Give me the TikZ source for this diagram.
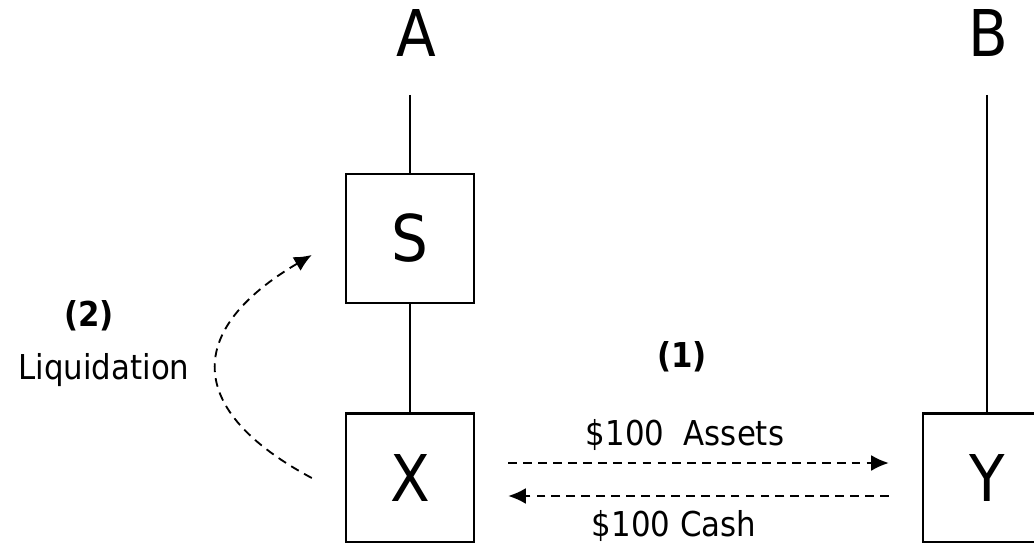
\documentclass[tikz,border=0pt]{standalone}
\usepackage{fontspec}
\setmainfont{DejaVu Sans Condensed}
\usepackage{tikz}
\usetikzlibrary{arrows.meta}
\usetikzlibrary{positioning}

\begin{document}
\begin{tikzpicture}[x=0.02cm,y=-0.02cm,line width=1.4pt]
            % 设置样式
            \tikzstyle{firm}=[draw=black,line width=1.4pt,minimum width=2.56cm,minimum height=2.58cm,inner sep=0pt,font=\fontsize{36.7}{40}\selectfont]
            \tikzstyle{owner}=[font=\fontsize{36.7}{40}\selectfont,anchor=base]
            \tikzstyle{lbl}=[font=\fontsize{19.5}{22}\selectfont,anchor=base]
            \tikzstyle{flow}=[dashed,dash pattern=on 5pt off 3.5pt,line width=1.05pt,-{Latex[length=10pt,width=9pt]}]

            \useasboundingbox (0,0) rectangle (1034,543);

            % 定义节点
            \node[owner] (A) at (416,57) {A};
            \node[owner] (B) at (988,57) {B};
            \node[firm] (S) at (410,238.5) {S};
            \node[firm] (X) at (410,478) {X};
            \node[firm] (Y) at (987,478) {Y};
            \coordinate (Atop) at (410,95);
            \coordinate (Btop) at (987,95);

            % 所有权
            \draw (Atop) -- (S.north);
            \draw (S.south) -- (X.north);
            \draw (Btop) -- (Y.north);

            % 交易
            \node[lbl,font=\bfseries\fontsize{19.5}{22}\selectfont] (one) at (682,368) {(1)};
            \node[lbl] (assets) at (685,446) {\$100~~Assets};
            \node[lbl] (cash) at (674,536) {\$100 Cash};
            \draw[flow,shorten <=0.66cm,shorten >=0.66cm] ([yshift=0.3cm]X.east) -- ([yshift=0.3cm]Y.west);
            \draw[flow,shorten <=0.66cm,shorten >=0.66cm] ([yshift=-0.36cm]Y.west) -- ([yshift=-0.36cm]X.west -| X.east);

            % 清算
            \node[lbl,font=\bfseries\fontsize{19.5}{22}\selectfont] (two) at (89,327) {(2)};
            \node[lbl] (liq) at (104,380) {Liquidation};
            \coordinate (liqstart) at ([xshift=-0.66cm]X.west);
            \coordinate (liqend) at ([xshift=-0.66cm,yshift=-0.33cm]S.west);
            \draw[flow] (liqstart) .. controls +(-127,-68) and +(-127,75) .. (liqend);
        \end{tikzpicture}
\end{document}
